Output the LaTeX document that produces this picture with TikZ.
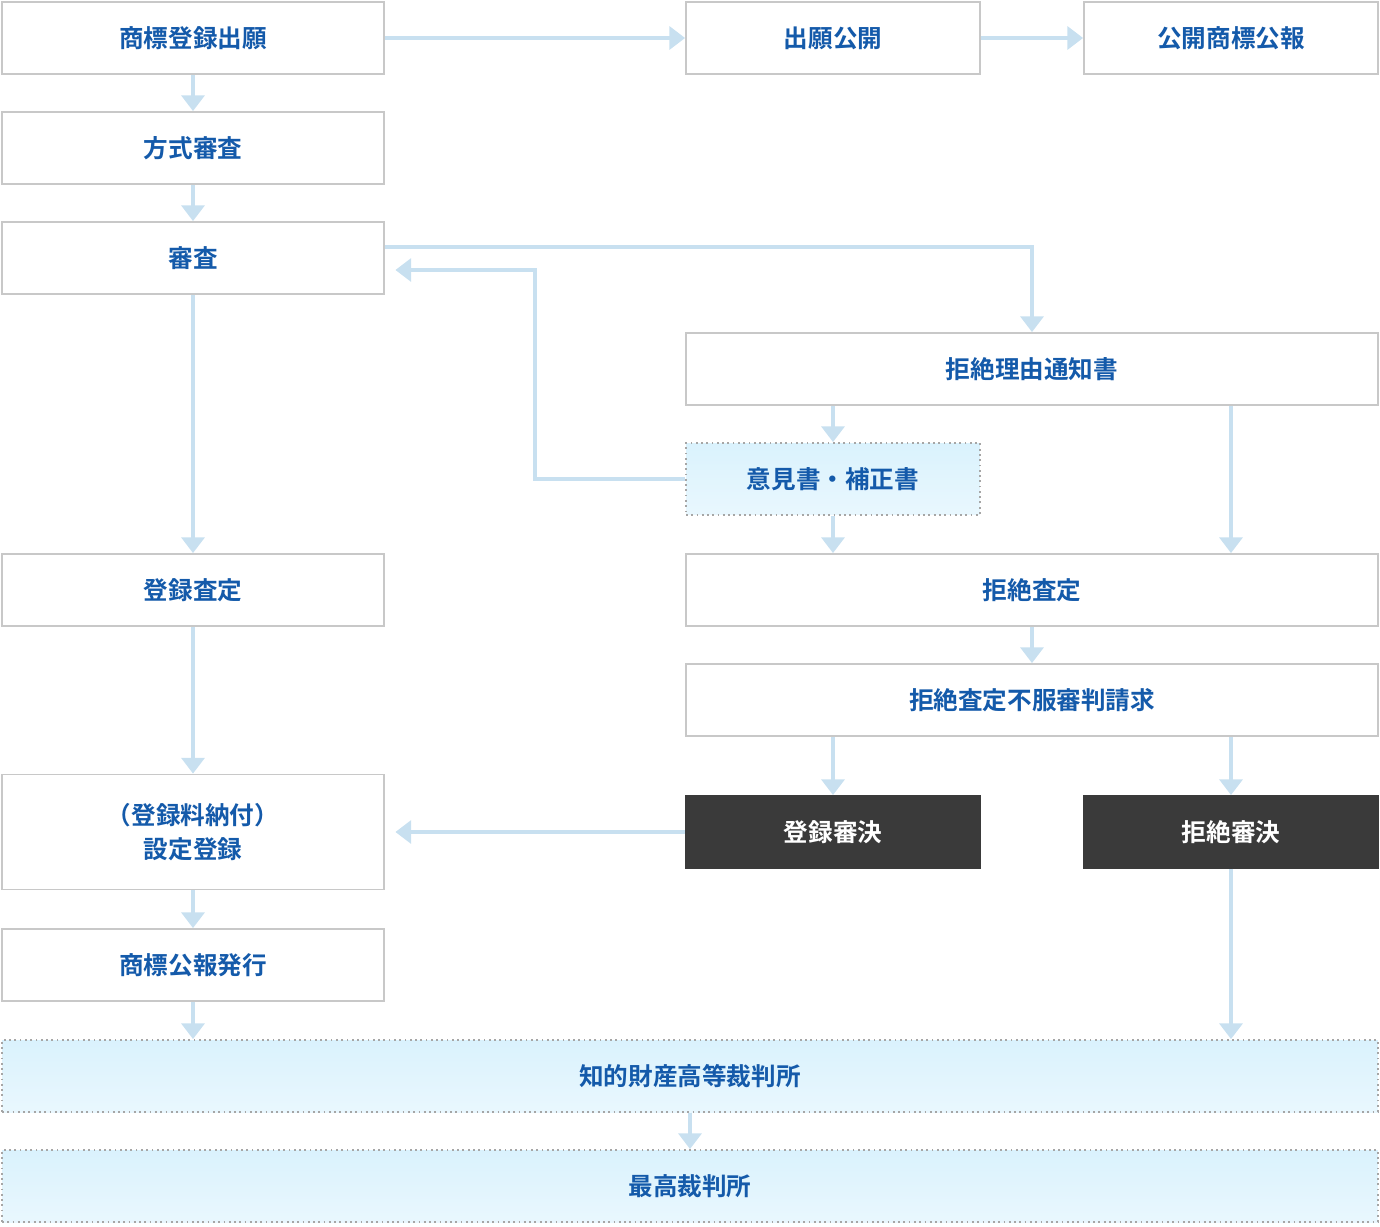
\documentclass[tikz,border=0pt]{standalone}
\usepackage{fontspec}
\usepackage{tikz}
\usetikzlibrary{arrows.meta}
\newfontfamily\jpfont{Noto Sans CJK JP}[BoldFont={* Bold}]
\definecolor{flowline}{RGB}{200,224,240}
\definecolor{flowtext}{RGB}{20,90,170}
\definecolor{boxedge}{RGB}{200,200,200}
\definecolor{darkbox}{RGB}{58,58,58}
\definecolor{paleblue}{RGB}{218,242,253}
\tikzset{
  stepbox/.style={draw=boxedge, fill=white, line width=1pt, text=flowtext,
    font=\jpfont\bfseries\fontsize{14}{19}\selectfont, align=center},
  notebox/.style={stepbox, draw=gray!70, dotted, top color=paleblue, bottom color=paleblue!60},
  resultbox/.style={stepbox, draw=darkbox, fill=darkbox, text=white},
  flow/.style={draw=flowline, line width=2.5pt, -{Triangle[length=9pt,width=13pt]}}
}
\newcommand{\flowbox}[6]{% style, name, x1, y1, x2, y2
  \node[#1, minimum width=(#5-#3)*0.02cm, minimum height=(#6-#4)*0.02cm, inner sep=0pt]
    (#2) at ({(#3+#5)/2},{(#4+#6)/2}) {\csname boxtext#2\endcsname};}
\begin{document}
\begin{tikzpicture}[x=0.02cm, y=-0.02cm]
  \useasboundingbox (0,0) rectangle (1380,1227);

  % 出願から審査まで
  \node[stepbox, minimum width=7.64cm, minimum height=1.44cm] (apply) at (193,38) {商標登録出願};
  \node[stepbox, minimum width=5.88cm, minimum height=1.44cm] (publish) at (833,38) {出願公開};
  \node[stepbox, minimum width=5.88cm, minimum height=1.44cm] (gazette) at (1231,38) {公開商標公報};
  \node[stepbox, minimum width=7.64cm, minimum height=1.44cm] (formal) at (193,148) {方式審査};
  \node[stepbox, minimum width=7.64cm, minimum height=1.44cm] (exam) at (193,258) {審査};

  % 拒絶理由
  \node[stepbox, minimum width=13.84cm, minimum height=1.44cm] (notice) at (1032,369) {拒絶理由通知書};
  \node[notebox, minimum width=5.88cm, minimum height=1.44cm] (opinion) at (833,479) {意見書・補正書};

  % 査定
  \node[stepbox, minimum width=7.64cm, minimum height=1.44cm] (grant) at (193,590) {登録査定};
  \node[stepbox, minimum width=13.84cm, minimum height=1.44cm] (refuse) at (1032,590) {拒絶査定};
  \node[stepbox, minimum width=13.84cm, minimum height=1.44cm] (appeal) at (1032,700) {拒絶査定不服審判請求};

  % 審決と登録
  \node[stepbox, minimum width=7.64cm, minimum height=2.3cm] (register) at (193,832) {（登録料納付）\\設定登録};
  \node[resultbox, minimum width=5.88cm, minimum height=1.44cm] (trialok) at (833,832) {登録審決};
  \node[resultbox, minimum width=5.88cm, minimum height=1.44cm] (trialng) at (1231,832) {拒絶審決};
  \node[stepbox, minimum width=7.64cm, minimum height=1.44cm] (issue) at (193,965) {商標公報発行};

  % 裁判所
  \node[notebox, minimum width=27.52cm, minimum height=1.44cm] (ipcourt) at (690,1076) {知的財産高等裁判所};
  \node[notebox, minimum width=27.52cm, minimum height=1.44cm] (supreme) at (690,1186) {最高裁判所};

  % 矢印
  \draw[flow] (apply) -- (publish);
  \draw[flow] (publish) -- (gazette);
  \draw[flow] (apply) -- (formal);
  \draw[flow] (formal) -- (exam);
  \draw[flow] (exam.east |- 0,247) -| ([xshift=0pt]notice.north);
  \draw[flow] (opinion.west) -| (535,270) -- ([xshift=6pt]exam.east |- 0,270);
  \draw[flow] (notice.south -| opinion) -- (opinion);
  \draw[flow] (notice.south -| trialng) -- (refuse.north -| trialng);
  \draw[flow] (opinion) -- (refuse.north -| opinion);
  \draw[flow] (exam) -- (grant);
  \draw[flow] (refuse) -- (appeal);
  \draw[flow] (grant) -- (register);
  \draw[flow] (appeal.south -| trialok) -- (trialok);
  \draw[flow] (appeal.south -| trialng) -- (trialng);
  \draw[flow] (trialok) -- ([xshift=6pt]register.east);
  \draw[flow] (register) -- (issue);
  \draw[flow] (issue) -- (ipcourt.north -| issue);
  \draw[flow] (trialng) -- (ipcourt.north -| trialng);
  \draw[flow] (ipcourt) -- (supreme);
\end{tikzpicture}
\end{document}
